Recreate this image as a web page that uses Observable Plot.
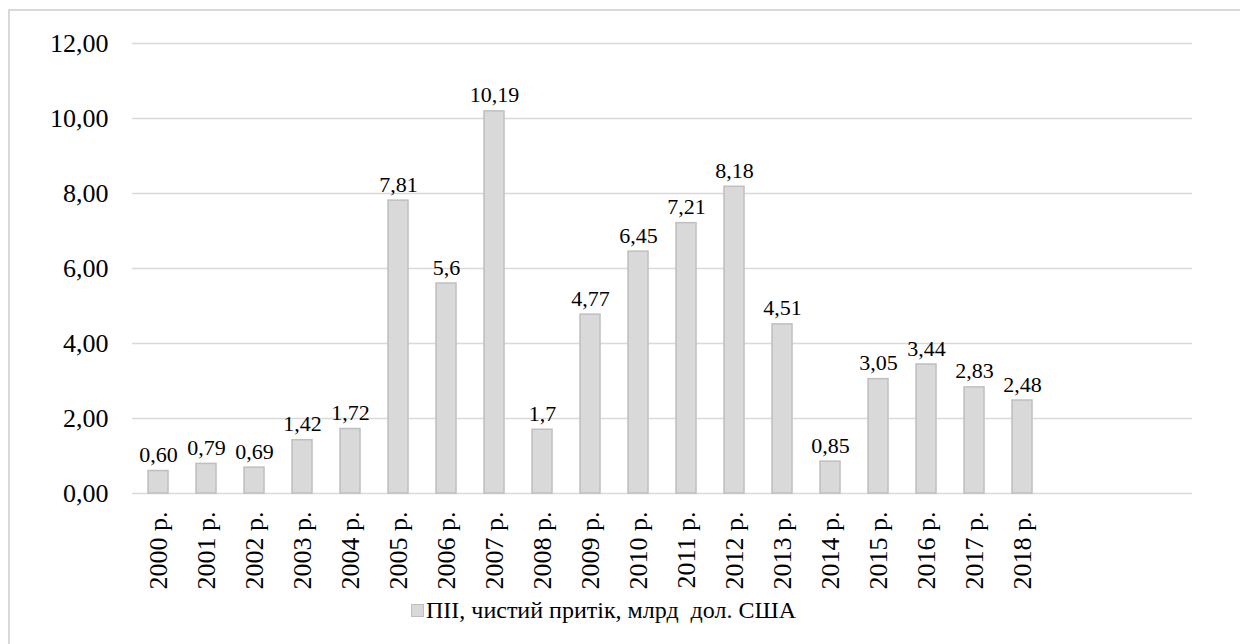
<!DOCTYPE html>
<html>
<head>
<meta charset="utf-8">
<script src="https://cdn.jsdelivr.net/npm/d3@7"></script>
<script src="https://cdn.jsdelivr.net/npm/@observablehq/plot@0.6"></script>
<style>
  html, body { margin: 0; padding: 0; background: #fff; }
  #wrap { position: relative; width: 1240px; height: 644px; overflow: hidden; font-family: "Liberation Serif", "Tinos", "Times New Roman", Times, "DejaVu Serif", "Noto Serif", serif; }
  #frame { position: absolute; left: 8px; top: 9px; width: 1300px; height: 700px; border-left: 2px solid #d9d9d9; border-top: 2px solid #d9d9d9; box-sizing: border-box; }
  #chart { position: absolute; left: 0; top: 0; }
  #chart svg, #chart svg text { font-family: "Liberation Serif", "Tinos", "Times New Roman", Times, "DejaVu Serif", "Noto Serif", serif !important; }
  #legend { position: absolute; left: 411px; top: 597px; display: flex; align-items: center; font-size: 24px; color: #000; white-space: pre; }
  #legend .sw { width: 11px; height: 11px; background: #d9d9d9; border: 1.5px solid #bfbfbf; margin-right: 2px; }
</style>
</head>
<body>
<div id="wrap">
  <div id="frame"></div>
  <div id="chart"></div>
  <div id="legend"><span class="sw"></span><span>ПІІ, чистий притік, млрд  дол. США</span></div>
</div>
<script>
const years = [2000, 2001, 2002, 2003, 2004, 2005, 2006, 2007, 2008, 2009, 2010, 2011, 2012, 2013, 2014, 2015, 2016, 2017, 2018];
const values = [0.60, 0.79, 0.69, 1.42, 1.72, 7.81, 5.6, 10.19, 1.7, 4.77, 6.45, 7.21, 8.18, 4.51, 0.85, 3.05, 3.44, 2.83, 2.48];
const valueLabels = ["0,60", "0,79", "0,69", "1,42", "1,72", "7,81", "5,6", "10,19", "1,7", "4,77", "6,45", "7,21", "8,18", "4,51", "0,85", "3,05", "3,44", "2,83", "2,48"];
const emptySlots = [2019, 2020, 2021];
const yTicks = [0, 2, 4, 6, 8, 10, 12];

const data = years.map((y, i) => ({year: y, value: values[i], label: valueLabels[i]}));

const chart = Plot.plot({
  width: 1240,
  height: 600,
  marginLeft: 132,
  marginRight: 48,
  marginTop: 43,
  marginBottom: 107,
  style: {fontSize: "26px", color: "#000", background: "transparent"},
  x: {
    domain: years.concat(emptySlots),
    paddingInner: 0.59,
    paddingOuter: 0.295,
    tickFormat: d => years.includes(d) ? `${d} р.` : "",
    tickRotate: -90,
    tickSize: 0,
    tickPadding: 18,
    label: null
  },
  y: {
    domain: [0, 12],
    ticks: yTicks,
    tickFormat: d => d.toFixed(2).replace(".", ","),
    tickSize: 0,
    tickPadding: 24,
    label: null
  },
  marks: [
    Plot.ruleY(yTicks, {stroke: "#d9d9d9", strokeWidth: 1.5}),
    Plot.barY(data, {x: "year", y: "value", fill: "#d9d9d9", stroke: "#bfbfbf", strokeWidth: 1.5}),
    Plot.text(data, {x: "year", y: "value", text: "label", lineAnchor: "bottom", dy: -9, fontSize: 22, fill: "#000"})
  ]
});
document.getElementById("chart").appendChild(chart);
</script>
</body>
</html>
